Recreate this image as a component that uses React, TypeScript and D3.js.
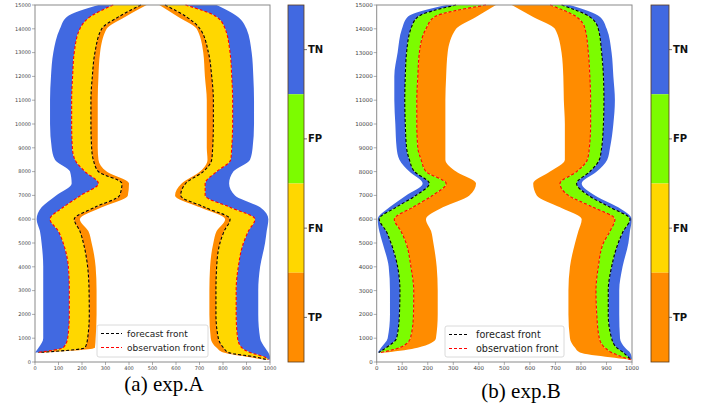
import * as d3 from "d3";

// y levels (grid rows, top to bottom)
const levels = [15000, 14500, 14000, 13000, 12000, 11000, 10000, 9000, 8500, 8000, 7500, 7000, 6500, 6000, 5500, 5000, 4000, 3000, 2000, 1000, 600, 400, 200, 100];

// exp.A, left side
const aLeftOuter = [270, 135, 106, 78, 68, 64, 64, 71, 85, 149, 156, 90, 28, 7, 21, 28, 35, 35, 35, 35, 15, 0, null, null];
const aLeftObs = [333, 234, 191, 167, 160, 156, 156, 159, 170, 213, 270, 195, 120, 64, 99, 120, 142, 146, 146, 139, 120, 8, null, null];
const aLeftFcst = [451, 355, 284, 255, 244, 238, 238, 241, 248, 270, 370, 360, 255, 167, 191, 206, 224, 230, 231, 224, 213, 15, null, null];
const aLeftInner = [475, 383, 305, 277, 270, 267, 267, 267, 270, 305, 400, 395, 284, 191, 227, 241, 258, 262, 262, 258, 255, 40, null, null];
// exp.A, right side
const aRightInner = [529, 610, 688, 716, 723, 731, 731, 731, 734, 702, 624, 596, 702, 809, 773, 759, 745, 742, 742, 748, 773, 802, 915, 972];
const aRightFcst = [553, 645, 702, 738, 752, 759, 759, 756, 752, 716, 641, 620, 723, 830, 805, 787, 773, 770, 770, 780, 802, 823, 943, 986];
const aRightObs = [640, 773, 809, 830, 837, 841, 841, 837, 833, 773, 724, 724, 830, 936, 908, 887, 865, 856, 856, 862, 880, 915, 979, 993];
const aRightOuter = [773, 864, 900, 922, 929, 932, 932, 926, 915, 844, 826, 851, 958, 993, 986, 979, 958, 950, 950, 958, 979, 993, 1000, 1000];

// exp.B, left side
const bLeftOuter = [272, 121, 99, 82, 69, 69, 73, 78, 89, 128, 180, 115, 50, 4, 10, 23, 47, 52, 52, 43, 17, 4, null, null];
const bLeftFcst = [311, 161, 134, 117, 112, 110, 112, 117, 128, 148, 206, 154, 76, 10, 37, 56, 82, 91, 89, 78, 37, 8, null, null];
const bLeftObs = [428, 226, 193, 167, 161, 157, 157, 161, 174, 193, 272, 219, 141, 69, 95, 115, 134, 145, 144, 132, 89, 17, null, null];
const bLeftInner = [467, 389, 311, 278, 272, 269, 269, 269, 269, 311, 389, 363, 259, 193, 213, 222, 235, 239, 239, 232, 160, 37, null, null];
// exp.B, right side
const bRightInner = [529, 613, 698, 724, 731, 733, 737, 737, 737, 679, 613, 627, 718, 803, 790, 777, 757, 751, 751, 757, 777, 796, 914, 990];
const bRightObs = [679, 783, 816, 829, 835, 838, 838, 833, 825, 783, 718, 751, 848, 933, 914, 888, 868, 859, 862, 872, 894, 920, 966, 995];
const bRightFcst = [724, 835, 868, 881, 888, 890, 888, 881, 872, 835, 783, 829, 914, 992, 966, 946, 920, 907, 907, 920, 940, 966, 986, 998];
const bRightOuter = [757, 875, 901, 920, 927, 933, 927, 914, 903, 862, 803, 855, 946, 999, 992, 986, 963, 950, 950, 953, 973, 992, 999, 1000];

const classes = ["TN", "FP", "FN", "TP"];
const classColors = ["#4169e1", "#7cfc00", "#ffd700", "#ff8c00"];
const xTicks = d3.range(0, 1001, 100);
const yTicks = d3.range(0, 15001, 1000);
const legendLabels = ["forecast front", "observation front"];

type Arr = (number | null)[];
interface Side { outer: Arr; fcst: Arr; obs: Arr; inner: Arr }

const idx = levels.map((_, i) => i);
const yScale = d3.scaleLinear().domain([0, 15000]).range([362, 5]);

function Panel({ left, right, plot, mode, title, titleX, titleY, legend, cbar, tickFont }: {
  left: Side; right: Side; plot: [number, number]; mode: "A" | "B"; title: string; titleX: number; titleY: number;
  legend: { x: number; y: number; w: number; h: number; line: number; text: number; font: number };
  cbar: [number, number]; tickFont: number;
}) {
  const x = d3.scaleLinear().domain([0, 1000]).range(plot);
  const ok = (a: Arr, b: Arr) => (i: number) => a[i] != null && b[i] != null;
  const band = (a: Arr, b: Arr) =>
    d3.area<number>().defined(ok(a, b)).y((i) => yScale(levels[i])).x0((i) => x(a[i] as number)).x1((i) => x(b[i] as number)).curve(d3.curveMonotoneY)(idx) || "";
  const line = (a: Arr) =>
    d3.line<number>().defined(ok(a, a)).x((i) => x(a[i] as number)).y((i) => yScale(levels[i])).curve(d3.curveMonotoneY)(idx) || "";

  const sides = [left, right];
  const cb = d3.scaleBand().domain(classes).range([5, 362]);

  return (
    <g>
      {sides.map((s, k) =>
        mode === "A" ? (
          <g key={k}>
            <path d={band(s.outer, s.obs)} fill={classColors[0]} />
            <path d={band(s.obs, s.fcst)} fill={classColors[2]} />
            <path d={band(s.fcst, s.inner)} fill={classColors[3]} />
          </g>
        ) : (
          <g key={k}>
            <path d={band(s.outer, s.fcst)} fill={classColors[0]} />
            <path d={band(s.fcst, s.obs)} fill={classColors[1]} />
            <path d={band(s.obs, s.inner)} fill={classColors[3]} />
          </g>
        )
      )}
      {sides.map((s, k) => (
        <g key={"l" + k} fill="none" strokeWidth={1.1} strokeDasharray="3,2">
          <path d={line(s.fcst)} stroke="#000" />
          <path d={line(s.obs)} stroke="#ff0000" />
        </g>
      ))}
      <rect x={plot[0]} y={5} width={plot[1] - plot[0]} height={357} fill="none" stroke="#8a8a8a" strokeWidth={1} />
      {xTicks.map((t) => (
        <g key={"x" + t} transform={`translate(${x(t)},362)`}>
          <line y2={3} stroke="#777" strokeWidth={0.6} />
          <text y={8.3} textAnchor="middle" fontSize={tickFont} fill="#444" fontFamily="DejaVu Sans">{t}</text>
        </g>
      ))}
      {yTicks.map((t) => (
        <g key={"y" + t} transform={`translate(${plot[0]},${yScale(t)})`}>
          <line x2={-3} stroke="#777" strokeWidth={0.6} />
          <text x={-4} dy="0.35em" textAnchor="end" fontSize={tickFont} fill="#444" fontFamily="DejaVu Sans">{t}</text>
        </g>
      ))}
      <rect x={legend.x} y={legend.y} width={legend.w} height={legend.h} rx={2} fill="#fff" fillOpacity={0.85} stroke="#d0d0d0" strokeWidth={0.8} />
      {legendLabels.map((l, i) => {
        const ly = legend.y + 8.5 + i * 14;
        return (
          <g key={l}>
            <line x1={legend.x + 4} x2={legend.x + 4 + legend.line} y1={ly} y2={ly} stroke={i === 0 ? "#000" : "#ff0000"} strokeWidth={1.1} strokeDasharray="3,2" />
            <text x={legend.x + legend.text} y={ly} dy="0.35em" fontSize={legend.font} fill="#222" fontFamily="DejaVu Sans">{l}</text>
          </g>
        );
      })}
      {classes.map((c, i) => (
        <g key={c}>
          <rect x={cbar[0]} y={cb(c)} width={cbar[1] - cbar[0]} height={cb.bandwidth()} fill={classColors[i]} />
          <line x1={cbar[1]} x2={cbar[1] + 3} y1={(cb(c) as number) + cb.bandwidth() / 2} y2={(cb(c) as number) + cb.bandwidth() / 2} stroke="#333" strokeWidth={0.7} />
          <text x={cbar[1] + 4} y={(cb(c) as number) + cb.bandwidth() / 2} dy="0.35em" fontSize={10} fontWeight="bold" fontFamily="DejaVu Sans" fill="#111">{c}</text>
        </g>
      ))}
      <rect x={cbar[0]} y={5} width={cbar[1] - cbar[0]} height={357} fill="none" stroke="#5a3a1a" strokeWidth={0.8} />
      <text x={titleX} y={titleY} textAnchor="middle" fontSize={21} fontFamily="Liberation Serif" fill="#000">{title}</text>
    </g>
  );
}

export default function App() {
  return (
    <svg width={707} height={408} style={{ position: "absolute", left: 0, top: 0, background: "#fff" }}>
      <Panel
        left={{ outer: aLeftOuter, fcst: aLeftFcst, obs: aLeftObs, inner: aLeftInner }}
        right={{ outer: aRightOuter, fcst: aRightFcst, obs: aRightObs, inner: aRightInner }}
        plot={[35, 270]} mode="A" title="(a) exp.A" titleX={164} titleY={391}
        legend={{ x: 97, y: 325, w: 111, h: 32, line: 21, text: 30, font: 9 }}
        cbar={[288, 304]} tickFont={5}
      />
      <Panel
        left={{ outer: bLeftOuter, fcst: bLeftFcst, obs: bLeftObs, inner: bLeftInner }}
        right={{ outer: bRightOuter, fcst: bRightFcst, obs: bRightObs, inner: bRightInner }}
        plot={[376.7, 632]} mode="B" title="(b) exp.B" titleX={521} titleY={398}
        legend={{ x: 445, y: 326, w: 119, h: 31, line: 19, text: 31, font: 9.6 }}
        cbar={[651, 669]} tickFont={5.5}
      />
    </svg>
  );
}
